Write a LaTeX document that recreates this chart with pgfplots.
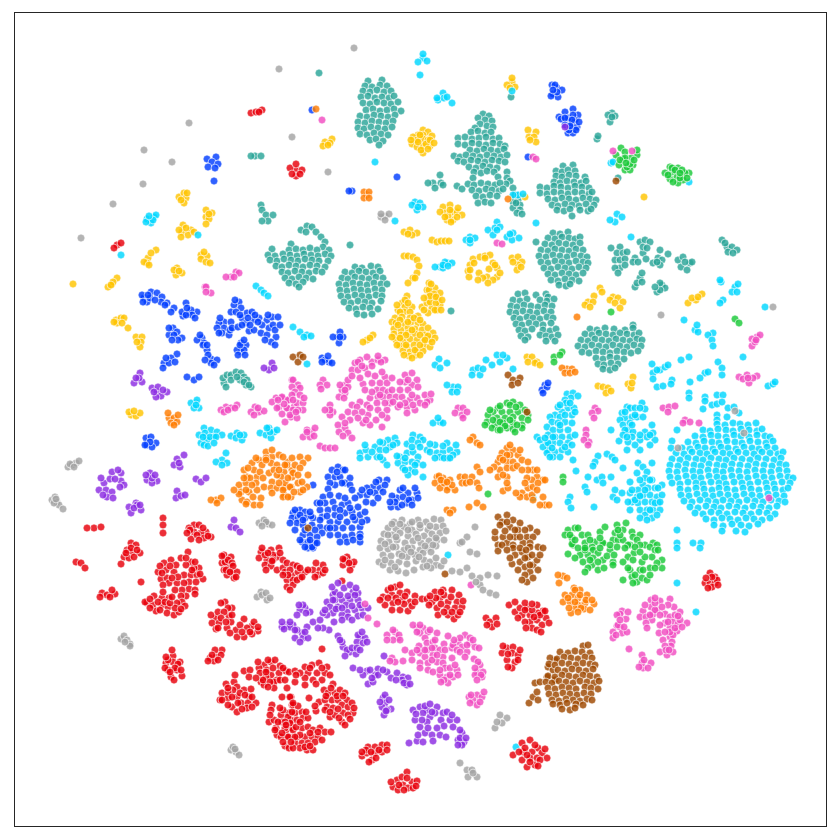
\documentclass[border=0pt]{standalone}
\usepackage{pgfplots}
\pgfplotsset{compat=1.18}
\definecolor{cteal}{HTML}{2AA598}
\definecolor{cred}{HTML}{E8000B}
\definecolor{cblue}{HTML}{023EFF}
\definecolor{corange}{HTML}{FF7C00}
\definecolor{cgreen}{HTML}{1AC938}
\definecolor{cpurple}{HTML}{8B2BE2}
\definecolor{cbrown}{HTML}{9F4800}
\definecolor{cpink}{HTML}{F14CC1}
\definecolor{cgray}{HTML}{A3A3A3}
\definecolor{cyellow}{HTML}{FFC400}
\definecolor{ccyan}{HTML}{00D7FF}
\pgfplotsset{dot/.style={only marks, mark=*, mark size=4pt,
  mark options={fill=#1, draw=white, line width=0.9pt, fill opacity=0.82, draw opacity=0.6}}}
\begin{document}
\begin{tikzpicture}
\path[use as bounding box] (0,0) rectangle (840pt,840pt);
\begin{axis}[
    at={(14pt,14pt)}, anchor=south west,
    scale only axis, width=812pt, height=814pt,
    xmin=14, xmax=826, ymin=12, ymax=826, y dir=reverse,
    ticks=none, axis line style={line width=0.8pt, black!85}
]
% teal
\addplot[dot=cteal] coordinates {
(319,73)(457,186)(462,189)(451,311)(536,242)
(368,81)(382,80)(365,86)(372,87)(380,85)(387,86)(363,91)(370,92)(377,90)(384,92)(391,91)
(361,97)(368,96)(375,98)(382,97)(389,98)(394,96)(363,103)(370,104)(377,102)(384,103)(391,104)(398,102)
(366,110)(373,109)(380,111)(387,110)(394,109)(401,111)(360,116)(367,117)(374,115)(381,116)(388,117)(395,115)
(358,122)(365,123)(372,121)(379,122)(386,123)(393,121)(358,128)(364,129)(371,127)(378,128)(385,129)(392,127)
(360,134)(367,135)(374,133)(381,134)(388,135)(370,140)(376,139)(383,141)(379,145)
(483,114)(489,116)(478,118)(485,120)(492,121)(480,124)(487,126)(493,127)(475,128)
(471,132)(478,131)(485,133)(491,132)(458,138)(465,137)(472,139)(479,138)(486,137)(493,139)(499,138)
(458,144)(465,145)(472,143)(479,144)(486,145)(493,143)(500,144)(505,146)(470,150)(477,151)(484,149)(491,150)(498,151)(504,149)
(454,156)(460,157)(466,155)(473,156)(480,157)(487,155)(494,156)(501,157)(507,155)
(458,161)(464,162)(471,160)(478,161)(485,162)(492,160)(499,161)(505,162)(469,167)(476,168)(483,166)(490,167)(497,168)
(474,172)(481,173)(487,171)(494,172)(507,172)(473,178)(498,177)(507,178)(510,181)(468,184)(474,185)(481,183)(488,184)(495,185)(506,184)(500,183)
(472,190)(479,191)(486,189)(492,190)(499,191)(503,189)(476,196)(483,197)(490,195)(497,196)(478,203)(485,202)(491,203)
(513,188)(515,195)(518,200)(513,202)(520,205)(513,208)(520,210)(517,213)(522,214)(516,203)
(563,166)(573,165)(556,171)(562,172)(568,170)(575,171)(556,176)(562,177)(569,175)(576,176)(585,177)
(554,182)(560,183)(567,181)(574,182)(581,183)(586,181)(540,187)(547,188)(554,186)(561,187)(568,188)(575,186)(582,187)(589,188)
(540,193)(547,194)(554,192)(561,193)(568,194)(575,192)(582,193)(589,194)(592,192)(548,199)(555,200)(562,198)(569,199)(576,200)(583,198)(590,199)(596,200)
(552,205)(558,206)(565,204)(572,205)(579,206)(586,204)(594,205)(557,210)(564,211)(570,209)(580,210)(588,211)(591,209)(572,216)
(301,230)(307,226)(312,227)(316,232)(306,232)(321,237)(325,242)(323,247)(329,250)(325,254)(331,256)(328,261)
(272,249)(291,244)(289,250)(296,249)(303,250)(310,248)(317,250)(268,255)(275,256)(283,254)(290,255)(297,256)(304,254)(311,255)(318,256)
(270,260)(277,261)(284,259)(291,260)(298,261)(305,259)(312,260)(319,261)(276,266)(282,267)(289,265)(296,266)(303,267)(310,265)(317,266)(325,267)
(282,272)(288,273)(295,271)(302,272)(309,273)(316,271)(322,272)(285,278)(292,279)(299,277)(306,278)(313,279)(289,283)(296,284)(303,282)(299,287)
(355,267)(362,268)(371,266)(378,267)(345,272)(352,273)(359,271)(366,272)(373,273)(380,271)
(342,278)(348,279)(355,277)(362,278)(369,279)(376,277)(383,278)(339,284)(346,285)(353,283)(360,284)(367,285)(374,283)(381,284)(387,284)
(340,290)(347,291)(354,289)(361,290)(368,291)(375,289)(382,290)(341,296)(348,297)(355,295)(362,296)(369,297)(376,295)(382,296)
(344,302)(351,303)(358,301)(365,302)(372,303)(381,301)(349,308)(356,309)(363,307)(370,308)(378,309)(357,314)(364,315)(372,314)
(553,233)(560,234)(568,232)(548,238)(555,239)(562,237)(569,238)(575,239)(580,237)(545,244)(552,245)(559,243)(566,244)(573,245)(580,243)
(541,250)(548,251)(555,249)(562,250)(569,251)(576,249)(583,250)(539,256)(546,257)(553,255)(560,256)(567,257)(574,255)(581,256)(587,257)
(541,262)(548,263)(555,261)(562,262)(569,263)(576,261)(583,262)(588,263)(544,268)(551,269)(558,267)(565,268)(572,269)(579,267)(586,268)
(548,274)(555,275)(562,273)(569,274)(576,275)(583,273)(551,280)(558,281)(565,279)(572,280)(579,281)(559,285)(566,286)(570,284)
(518,294)(525,293)(536,295)(546,294)(548,297)(513,300)(520,301)(527,299)(540,300)(547,301)(554,299)
(511,306)(517,307)(524,305)(531,306)(538,307)(545,305)(552,306)(510,312)(516,313)(523,311)(530,312)(537,313)(544,311)(551,312)
(514,318)(520,319)(527,317)(533,318)(540,319)(547,317)(553,318)(516,324)(522,325)(529,323)(536,324)(543,325)(551,323)
(519,330)(525,331)(532,329)(543,330)(550,331)(556,329)(521,336)(528,337)(540,335)(546,336)(552,337)(558,335)(525,340)(546,341)(555,341)
(633,325)(590,329)(597,330)(605,328)(614,329)(625,330)(633,328)(585,334)(592,335)(599,333)(606,334)(613,335)(620,333)(627,334)(634,335)(639,333)
(581,340)(588,341)(595,339)(602,340)(609,341)(616,339)(623,340)(630,341)(637,339)(642,340)(578,346)(585,347)(592,345)(599,346)(606,347)(613,345)(620,346)(627,347)(634,345)(641,346)
(582,352)(589,353)(596,351)(603,352)(610,353)(617,351)(624,352)(631,353)(638,351)(596,358)(603,359)(610,357)(617,358)(624,359)(598,364)(604,365)(611,363)(618,364)(603,369)(610,370)(615,368)
(611,248)(620,247)(617,253)(623,253)(627,252)(615,260)(620,260)(625,259)(620,268)(615,268)(618,273)(625,265)
(635,258)(633,262)(638,262)(643,253)(640,242)(645,240)(650,242)(643,247)(647,248)(646,259)
(660,250)(668,254)(658,258)(662,260)(653,263)(660,265)(657,262)
(678,260)(683,257)(690,263)(681,267)(687,270)(692,262)(685,262)
(722,240)(727,247)(732,247)(737,250)(728,252)(733,253)(725,243)
(640,278)(635,287)(642,273)(637,283)(642,282)(662,285)(657,292)(665,288)(660,290)(660,283)(655,287)
(612,113)(608,115)(615,116)(610,122)(612,117)(597,139)(598,136)(618,178)
(433,183)(440,175)(441,183)(435,188)(428,183)(443,185)
(261,205)(262,210)(266,215)(273,215)(268,221)(262,221)(255,156)(251,156)(261,156)(511,97)(350,245)
(224,383)(223,378)(227,375)(231,375)(236,372)(241,373)(244,377)(247,380)(251,387)(246,385)(240,380)(244,382)(226,387)(231,380)(237,377)(249,385)
};
% yellow
\addplot[dot=cyellow] coordinates {
(73,284)(179,197)(184,193)(186,198)(184,203)(181,200)(187,193)
(206,210)(212,213)(206,217)(209,219)(206,224)(209,214)
(183,225)(182,232)(191,230)(188,235)(181,237)(186,228)(194,232)(179,230)
(156,250)(148,258)(147,263)(151,253)(144,262)(149,265)
(201,255)(207,256)(201,259)(206,262)(210,263)(204,252)
(177,268)(176,275)(182,273)(174,270)(179,271)
(117,278)(112,284)(108,287)(113,282)(111,285)
(116,320)(121,318)(124,318)(117,323)(114,322)(128,328)(122,323)
(136,337)(142,337)(141,342)(140,347)(137,342)
(131,415)(136,416)(140,413)(129,412)(134,411)
(332,139)(325,142)(323,146)(330,143)(328,145)
(423,130)(428,132)(418,135)(413,137)(423,135)(432,136)(412,144)(417,147)(423,139)(430,146)(423,153)(417,140)(423,146)(428,140)
(420,135)(426,144)(418,142)(411,140)(421,150)(430,140)(434,143)(428,149)
(512,82)(507,85)(515,87)(510,88)(512,78)(528,130)(536,132)(529,137)(534,137)(536,142)(530,140)
(443,207)(450,205)(445,213)(452,212)(457,212)(462,215)(447,220)(453,220)(457,217)(440,212)(448,216)(450,210)(458,208)(445,217)(451,222)
(404,232)(410,230)(417,233)(412,235)(408,234)(432,240)(437,242)(441,241)(445,241)(449,241)
(404,256)(408,256)(413,257)(417,260)(419,266)(417,273)(413,278)(408,283)(415,278)
(429,283)(427,290)(435,288)(440,293)(428,297)(433,297)(438,300)(422,307)(427,303)(432,308)(437,310)(440,305)(428,313)(430,302)
(429,290)(434,294)(430,296)(436,303)(424,298)(436,297)(435,310)(424,310)(442,300)(431,284)(441,310)
(407,296)(402,303)(398,310)(405,307)(412,307)(395,318)(404,312)(405,300)(408,303)(400,312)(397,305)(410,312)(392,322)
(402,317)(410,318)(418,316)(396,323)(404,324)(411,322)(418,323)(423,324)(394,329)(401,330)(408,328)(415,329)(422,330)(428,328)
(394,334)(401,335)(408,333)(415,334)(425,335)(433,333)(396,340)(403,341)(410,339)(417,340)(424,341)(430,339)
(400,346)(407,347)(414,345)(424,346)(430,347)(403,351)(410,352)(417,350)(423,351)(409,356)(416,355)
(400,320)(408,322)(414,318)(420,320)(398,325)(406,335)(412,330)(420,335)(428,336)(400,338)(415,350)(420,345)(406,345)(392,337)(397,345)(404,355)(412,358)(420,355)(425,340)(435,338)(432,342)
(367,340)(373,335)(363,342)(370,338)
(473,259)(480,257)(485,256)(490,255)(493,263)(497,268)(470,265)(468,271)(469,277)(479,273)(489,269)(487,277)(497,277)(493,280)(483,278)(478,280)(488,283)(500,273)(485,258)(474,263)(470,270)(495,265)
(512,258)(518,257)(522,262)(518,265)(517,270)(513,262)(521,267)
(527,357)(532,357)(537,362)(528,362)(535,363)(540,365)
(600,288)(602,292)(594,296)(588,302)(593,302)(585,305)(590,307)
(613,297)(618,298)(610,300)(615,303)(623,302)(620,308)
(598,386)(603,387)(608,388)(606,393)(611,391)(633,377)(628,384)(631,388)(632,383)
(688,303)(696,300)(702,294)(692,298)(698,297)(644,197)(525,197)
};
% cyan
\addplot[dot=ccyan] coordinates {
(423,58)(423,54)(418,62)(427,61)(420,75)(443,93)(438,100)(444,98)(452,103)(447,97)(437,98)(512,91)
(375,162)(395,221)(536,223)(415,202)(420,203)(412,205)(417,210)(423,207)(418,207)(518,195)(523,194)(513,195)
(497,222)(488,230)(495,228)(500,227)(493,235)(497,230)(513,233)(507,237)(512,240)(519,238)(510,234)
(470,237)(466,240)(475,238)(470,243)(470,240)(448,263)(440,267)(435,267)(445,262)(452,263)(443,268)(443,265)(448,266)
(147,219)(154,217)(151,223)(146,222)(156,215)(153,220)(149,216)(198,235)(121,255)
(256,286)(261,290)(264,293)(268,296)(293,327)(300,332)(307,335)(304,337)(311,336)(307,364)
(439,359)(447,363)(435,365)(440,368)(453,387)(447,385)(458,387)(452,392)(457,392)(440,422)(433,423)(443,423)(438,418)
(473,370)(478,368)(480,375)(472,375)(486,360)(492,365)(497,355)(507,358)(500,362)(503,355)(483,369)(513,369)(533,498)
(360,453)(366,450)(368,457)(375,447)(380,450)(377,457)(383,460)(387,465)(388,440)(395,438)(383,443)(390,447)(397,443)(380,442)
(407,444)(413,435)(420,437)(412,440)(423,440)(418,443)(400,457)(407,453)(413,452)(418,457)(398,463)(405,462)(412,462)(417,463)(403,468)(410,470)(415,472)(423,465)(423,477)(408,475)(427,450)
(435,445)(447,443)(430,452)(437,453)(443,452)(450,450)(457,452)(440,457)(448,458)(453,455)
(360,458)(372,452)(380,457)(386,450)(393,445)(365,445)(405,458)(397,456)(405,470)(415,465)(420,447)(412,447)(435,458)(444,458)(450,458)(456,445)(443,446)(430,444)
(567,394)(573,393)(571,398)(578,396)(565,400)(568,408)(574,408)(562,412)(555,415)(550,417)(560,417)(572,415)(552,422)(558,423)(565,422)(572,423)
(547,427)(553,430)(560,430)(568,430)(548,435)(555,437)(562,437)(570,437)(547,443)(553,443)(560,443)(568,443)(548,450)(555,452)(562,450)(568,452)(553,457)(560,457)
(537,437)(540,440)(543,447)(547,453)(550,457)(573,460)(576,471)
(560,425)(553,437)(565,415)(566,403)(558,407)(570,403)(548,443)(552,448)(565,447)(545,438)(572,445)(575,435)(575,412)(560,405)
(627,407)(630,408)(635,408)(642,403)(645,409)(640,408)(622,413)(625,418)(632,417)(637,417)(620,420)(623,425)(630,423)(643,417)(628,430)(633,432)(625,430)(632,437)(619,441)(627,450)(628,442)(640,440)(645,432)(652,425)(653,433)(655,440)(647,437)(640,450)(611,430)
(625,412)(632,425)(640,435)(623,435)(635,415)(650,435)(650,445)(627,437)(635,445)
(638,463)(652,463)(643,467)(647,472)(637,473)(645,478)(652,480)(662,485)(643,485)(638,490)(648,488)(655,488)(630,493)(637,497)(643,495)(650,495)(657,497)(662,495)
(632,502)(638,503)(645,502)(652,502)(658,503)(640,510)(647,510)(653,510)(660,510)(630,510)(645,515)(652,518)(657,515)(630,482)
(640,480)(650,480)(658,488)(635,500)(650,510)(640,496)(645,490)(655,503)(632,490)(640,518)(647,520)(660,502)(628,502)
(598,456)(595,462)(593,466)(607,454)(612,457)(615,460)(623,468)(611,477)(588,477)(597,480)(602,477)(603,483)(585,487)(587,492)(615,490)(613,497)(617,500)(622,493)(570,497)(568,502)(571,508)(594,507)
(652,364)(660,370)(665,367)(653,373)(657,370)(668,365)(653,379)(672,380)(657,387)(663,386)(671,384)(681,360)(689,357)(690,382)(689,393)(689,398)
(695,330)(698,332)(697,325)(684,320)(713,333)(708,335)(712,340)(713,346)(705,373)(700,378)(708,372)(718,362)(722,368)(722,375)(743,357)(768,386)(773,384)(775,382)
(765,307)(723,300)(720,303)(735,287)(732,292)(737,292)(738,284)(721,282)(720,280)(631,237)(611,163)(613,162)(617,214)(615,222)(610,220)(622,217)(689,182)
(705,397)(705,401)(717,395)(723,395)(712,405)(717,404)(703,409)(722,402)(728,408)(734,407)(739,413)(717,415)(717,420)(727,417)(677,430)(672,441)(671,448)
(677,530)(677,543)(677,548)(693,543)(701,543)(700,548)(677,583)(696,612)(448,555)(516,747)
(196,403)(191,403)(199,408)(194,408)(197,400)(196,405)(204,428)(211,430)(217,432)(222,435)(199,435)(206,437)(214,437)(201,443)(207,440)(204,445)
(205,433)(210,437)(216,437)(208,446)(214,443)(203,437)
(231,436)(237,433)(236,438)(242,440)(244,435)(240,435)(260,433)(269,428)(266,435)(274,432)(271,438)(277,430)(270,432)(267,428)(226,453)(222,460)(216,462)(227,463)(222,465)
(717,424)(725,425)(733,423)(740,424)(748,425)(756,423)(703,430)(710,431)(718,429)(726,430)(733,431)(741,429)(749,430)(757,431)(762,429)
(695,436)(703,437)(711,435)(718,436)(726,437)(734,435)(741,436)(749,437)(757,435)(765,436)(770,437)
(688,442)(696,443)(704,441)(712,442)(719,443)(727,441)(735,442)(742,443)(750,441)(758,442)(766,443)(773,441)
(682,448)(690,449)(698,447)(705,448)(713,449)(721,447)(728,448)(736,449)(744,447)(752,448)(759,449)(767,447)(775,448)
(676,453)(684,454)(692,452)(700,453)(707,454)(715,452)(723,453)(730,454)(738,452)(746,453)(754,454)(762,452)(770,453)(778,454)(783,452)
(672,459)(680,460)(688,458)(696,459)(703,460)(711,458)(719,459)(726,460)(734,458)(742,459)(750,460)(758,458)(766,459)(774,460)(781,458)
(670,465)(678,466)(686,464)(694,465)(701,466)(709,464)(717,465)(724,466)(732,464)(740,465)(748,466)(756,464)(764,465)(772,466)(780,464)(786,465)
(669,471)(677,472)(685,470)(693,471)(700,472)(708,470)(716,471)(723,472)(731,470)(739,471)(747,472)(755,470)(763,471)(771,472)(779,470)(787,471)
(670,477)(678,478)(686,476)(694,477)(701,478)(709,476)(717,477)(724,478)(732,476)(740,477)(748,478)(756,476)(764,477)(772,478)(780,476)(788,477)(793,478)
(672,483)(680,484)(688,482)(696,483)(703,484)(711,482)(719,483)(726,484)(734,482)(742,483)(750,484)(758,482)(766,483)(774,484)(782,482)(790,483)
(680,489)(688,490)(696,488)(704,489)(712,490)(719,488)(727,489)(735,490)(743,488)(751,489)(759,490)(767,488)(775,489)(783,490)(788,488)
(681,495)(689,496)(697,494)(705,495)(713,496)(720,494)(728,495)(736,496)(744,494)(752,495)(760,496)(768,494)(776,495)(784,496)
(684,501)(692,502)(700,500)(708,501)(716,502)(723,500)(731,501)(739,502)(747,500)(755,501)(763,502)(771,500)(779,501)(785,502)
(690,507)(698,508)(706,506)(714,507)(721,508)(729,506)(737,507)(745,508)(753,506)(761,507)(769,508)(777,506)
(695,513)(703,514)(711,512)(719,513)(727,514)(735,512)(743,513)(751,514)(759,512)(767,513)(775,514)
(706,519)(714,520)(722,518)(730,519)(738,520)(746,518)(754,519)(762,520)(770,518)(714,525)(723,526)(732,524)(741,525)(749,526)(758,524)(722,531)(736,531)(745,532)
};
% blue
\addplot[dot=cblue] coordinates {
(207,159)(216,157)(212,162)(218,164)(208,167)(215,168)(214,181)(352,191)(349,191)(397,177)(312,110)
(557,88)(553,94)(562,90)(552,85)(558,97)(551,96)(555,85)(557,92)(553,90)
(573,109)(565,112)(559,117)(578,115)(575,120)(568,118)(572,125)(577,127)(568,133)(573,133)(576,130)(561,119)(573,115)(569,130)(528,157)(565,118)(572,120)(565,125)(570,126)(579,122)
(144,298)(151,292)(157,293)(162,297)(167,303)(174,308)(147,302)(161,302)(142,295)(186,303)(150,298)(155,300)(165,305)(171,312)(148,295)(143,302)
(189,313)(183,316)(197,312)(191,310)(182,312)(192,315)(186,315)(195,318)(187,308)
(173,328)(169,335)(177,332)(182,338)(169,328)(174,335)(178,340)(172,340)(177,354)(171,358)(164,363)(169,363)(166,358)(163,368)(175,362)
(202,338)(197,340)(204,343)(207,350)(211,359)(217,360)(208,355)(211,363)(203,345)(200,335)(207,345)(214,365)(205,360)
(241,343)(246,345)(241,352)(237,350)(244,350)(240,345)(238,355)(245,355)(244,340)
(224,322)(219,323)(231,322)(224,328)(222,333)(229,335)(217,328)(220,318)(230,330)(219,333)(232,328)
(239,302)(234,305)(231,312)(241,308)(236,312)(238,327)(242,318)(247,313)(252,312)(246,323)(254,320)(249,331)(259,318)(254,330)(261,333)(267,320)(272,317)(278,317)(269,328)(267,335)(276,337)(271,342)
(240,315)(248,318)(235,300)(255,315)(242,325)(250,325)(262,325)(258,322)(273,325)(275,330)(265,340)(275,345)(268,315)(280,325)
(194,380)(187,377)(199,377)(146,438)(151,437)(156,443)(147,445)(152,447)(150,442)(145,445)
(338,337)(333,337)(343,337)(340,332)(339,343)(322,358)(329,362)(325,360)(332,363)(322,362)(328,356)(340,337)
(545,385)(542,390)(547,387)(543,393)(548,383)
(338,467)(332,470)(343,470)(328,477)(335,477)(340,477)(350,478)(345,483)(350,485)(345,470)(337,472)(342,483)(335,485)(352,490)(330,483)
(379,480)(387,480)(373,487)(380,488)(367,488)(360,495)(367,495)(375,493)(373,503)(385,485)(376,482)(370,492)(362,490)(383,492)(378,498)(355,498)(366,502)
(400,490)(408,493)(417,493)(397,498)(403,497)(412,500)(418,498)(392,496)(391,507)(398,507)(407,503)(403,488)(409,500)(402,505)(395,502)(415,488)(390,502)(412,505)
(339,496)(328,489)(323,497)(333,502)(317,503)(325,503)(342,505)(348,503)(358,507)(320,510)(328,510)(335,515)(345,513)(352,512)(360,515)
(313,518)(322,517)(330,522)(338,522)(347,522)(355,520)(367,520)(320,527)(327,528)(335,528)(343,528)(352,528)(360,527)(330,535)(345,537)(360,534)(347,542)(360,542)
(320,503)(335,508)(340,510)(350,508)(330,495)(345,498)(327,516)(340,517)(353,517)(362,522)(320,520)(330,528)(338,535)(352,535)(340,542)(322,533)(312,525)(365,512)(360,537)(353,540)
(293,513)(300,510)(305,512)(292,518)(298,518)(305,518)(311,516)(297,523)(303,525)(303,535)(310,535)(317,537)(302,542)(308,542)(315,543)(308,548)(313,548)(313,485)(312,547)(317,543)
(295,510)(300,515)(310,512)(303,520)(290,523)(295,530)(305,530)(315,530)(300,540)(310,540)(305,547)
};
% red
\addplot[dot=cred] coordinates {
(251,113)(256,112)(262,110)(259,112)(117,245)(121,243)(114,248)(296,170)(290,168)(296,164)(302,170)(296,176)(292,174)(300,174)
(94,528)(87,528)(101,527)(163,518)(163,525)(163,533)(194,525)(189,528)(199,525)(194,532)(206,532)(211,537)(201,533)(191,539)(204,538)(190,530)(197,535)(203,528)(208,536)(187,533)(199,540)
(131,543)(136,545)(127,550)(132,552)(140,553)(124,557)(129,558)(121,564)(131,548)(137,550)(126,553)(134,557)(76,562)(81,563)(85,568)(102,593)(107,595)(115,594)(110,597)(100,597)(112,590)
(188,552)(181,558)(171,560)(164,563)(158,572)(166,570)(174,572)(191,562)(199,568)(194,568)(184,575)(191,575)(197,575)(203,579)(161,579)(167,578)(169,583)(177,583)(189,582)(196,582)(189,589)(195,590)(195,594)(186,596)(141,582)
(176,565)(186,565)(178,577)(170,566)(160,566)(184,583)(182,590)(192,570)(200,574)(163,585)(175,590)(181,596)(186,558)(195,562)(172,578)(162,573)
(154,596)(162,598)(169,598)(147,603)(153,605)(162,605)(168,607)(182,602)(177,603)(156,611)(167,613)(174,615)(179,612)(145,602)
(158,602)(150,599)(165,602)(175,608)(160,610)(170,603)(185,606)(150,608)(172,597)(181,609)(163,592)
(224,555)(231,557)(222,563)(229,565)(224,570)(232,572)(237,572)(227,575)(234,578)(225,562)(228,560)(232,563)(226,570)(233,566)(230,572)(222,556)(236,577)
(261,552)(271,550)(279,548)(259,558)(267,560)(277,557)(265,565)(271,566)(277,570)(265,555)(273,555)(262,548)(268,553)(280,553)(283,560)(273,560)(283,568)(266,570)(272,561)
(287,563)(293,565)(285,572)(292,575)(298,572)(305,572)(287,580)(293,580)(300,578)(287,587)(293,585)(313,570)(320,570)(323,565)(318,575)(323,573)
(290,570)(297,566)(300,568)(288,575)(297,580)(283,575)(302,577)(290,590)(316,563)(308,570)(315,577)(325,570)
(348,560)(343,565)(352,565)(347,557)(354,562)(345,560)(350,570)(349,563)(343,559)(342,581)(322,649)
(225,602)(221,603)(232,608)(229,616)(216,618)(211,615)(212,623)(219,623)(216,629)(231,622)(227,628)(236,630)(244,619)(252,626)(247,628)(258,631)(252,634)(244,637)(237,637)(254,622)
(228,608)(218,612)(224,612)(232,615)(221,618)(226,622)(218,628)(240,625)(250,632)(258,627)(242,632)(230,633)
(222,650)(210,658)(216,657)(214,661)(221,655)(215,650)(218,660)(212,655)(208,661)(173,656)(166,663)(173,662)(177,670)(171,677)(182,676)(168,670)(180,662)(168,660)(178,664)(165,668)(175,668)(181,670)(170,672)(174,680)(172,650)(166,657)
(226,684)(234,682)(222,693)(228,698)(237,687)(244,690)(251,689)(249,697)(237,697)(220,700)(232,707)(241,703)(248,703)(256,703)(237,712)(247,708)(244,671)(250,670)(249,677)
(233,690)(240,693)(228,692)(228,688)(232,697)(245,695)(222,700)(238,703)(228,705)(242,709)(252,697)(252,707)(235,675)
(264,665)(271,662)(275,660)(259,668)(267,670)(280,666)(260,673)(271,675)(279,673)(266,677)(277,680)(261,682)(274,682)(264,685)(274,688)(286,671)(289,672)(287,688)
(258,662)(266,672)(268,660)(273,668)(283,668)(263,680)(270,682)(280,680)(285,680)(268,687)(256,678)
(282,697)(291,697)(272,705)(271,710)(269,722)(274,720)(281,715)(289,713)(276,728)(282,722)(291,720)(277,735)(286,730)(292,728)(281,737)(289,737)(285,746)(289,748)(292,705)
(283,710)(293,705)(288,717)(295,713)(302,712)(290,723)(297,720)(303,718)(308,718)(285,728)(293,730)(302,728)(308,727)(313,730)(320,728)(325,732)(331,732)
(288,737)(297,737)(305,737)(312,737)(318,737)(295,743)(302,743)(308,743)(315,742)(322,740)(300,748)(307,750)(313,750)(293,748)
(270,715)(280,708)(285,722)(292,712)(298,706)(275,730)(282,733)(296,727)(300,735)(310,733)(318,732)(295,737)(283,742)(305,747)(291,742)(310,746)(286,725)(278,722)(300,722)(306,712)
(324,690)(319,702)(316,711)(330,717)(309,698)(295,671)(290,697)(293,703)(315,706)
(333,684)(328,693)(335,693)(340,690)(345,693)(325,700)(332,700)(338,700)(347,700)(327,707)(333,708)(342,705)(348,707)(353,713)(335,715)(343,713)(348,715)(342,722)(325,710)
(326,696)(337,696)(343,696)(331,688)(352,703)(354,708)(330,712)(338,709)(350,719)(345,725)(339,718)
(305,667)(312,665)(319,663)(327,667)(308,673)(317,673)(325,673)(305,678)(313,680)(322,680)(295,682)(310,668)(322,668)(300,673)(330,675)(316,684)(305,685)(296,675)
(395,587)(388,590)(383,597)(392,595)(400,593)(407,592)(415,596)(385,605)(393,603)(402,600)(410,602)(392,610)(400,610)(408,611)
(388,598)(396,598)(404,604)(412,606)(415,602)(391,588)(398,602)(405,596)(380,600)(400,585)
(422,599)(427,599)(435,592)(443,590)(452,590)(459,595)(432,602)(440,598)(448,602)(457,602)(437,608)(447,608)(455,608)(462,607)(448,615)(454,619)(458,615)
(429,605)(436,598)(444,595)(451,597)(463,601)(441,604)(430,596)(452,612)(460,612)(438,615)(444,612)(441,592)
(486,618)(490,622)(496,618)(492,627)(487,625)(497,624)(509,605)(515,612)(520,608)(527,608)(537,605)(543,611)(522,615)(530,615)(538,613)(546,618)(530,622)(537,620)(525,622)(532,628)(542,625)(537,630)
(515,602)(525,603)(532,610)(540,615)(532,604)(525,610)(518,618)(545,611)(526,628)(549,623)(534,617)(541,632)
(507,648)(513,647)(502,653)(512,653)(518,655)(507,660)(515,662)(512,668)(508,654)(518,660)(508,667)(503,646)(520,650)
(362,756)(368,747)(375,747)(382,745)(387,745)(367,753)(375,753)(382,752)(372,760)(366,750)(371,752)(379,750)(387,750)(362,752)(376,758)(369,762)
(397,780)(402,777)(407,772)(393,787)(403,785)(412,782)(417,781)(408,788)(398,790)(399,785)(407,778)(413,788)(404,790)(391,782)(416,786)
(513,755)(522,743)(530,740)(538,748)(523,752)(532,752)(542,753)(547,758)(522,760)(530,758)(537,758)(527,767)(535,765)(525,748)(535,745)(527,755)(540,760)(519,752)(545,749)(530,762)(538,766)
(710,573)(715,577)(705,583)(710,583)(715,583)(717,580)(712,587)(712,577)(706,578)(708,588)(718,585)
};
% orange
\addplot[dot=corange] coordinates {
(316,109)(367,195)(364,192)(369,192)(364,198)(369,198)(508,199)(577,317)
(567,369)(562,368)(572,369)(565,373)(570,373)(575,372)(169,418)(174,418)(171,423)(177,422)(174,425)(168,413)(178,415)(216,500)(211,500)(221,498)(217,503)
(266,452)(259,460)(252,463)(272,457)(279,455)(262,465)(271,463)(244,470)(254,470)(277,465)(287,462)(292,458)(247,477)(257,477)(269,473)(274,470)(284,472)(292,470)
(239,485)(246,483)(256,483)(264,487)(272,482)(281,477)(292,477)(241,492)(249,492)(257,490)(271,488)(277,488)(284,488)(291,487)(242,500)(254,505)(247,502)(261,498)(272,493)(284,495)(291,497)
(283,457)(300,457)(308,458)(287,465)(295,465)(303,463)(293,473)(308,475)(285,483)(298,483)(307,487)(290,487)(283,490)(300,492)(283,497)(246,504)
(256,458)(266,458)(260,472)(250,478)(263,478)(277,475)(285,465)(300,468)(246,490)(253,497)(266,460)(279,470)(272,450)(248,468)(244,478)(298,475)(288,478)(302,482)(260,505)(252,485)(303,490)(294,492)(279,483)(288,497)(239,494)(234,490)
(473,437)(470,440)(477,443)(480,445)(477,467)(480,472)
(437,477)(443,478)(450,480)(435,483)(442,483)(448,487)(455,490)(447,490)(440,488)(460,477)(465,477)(472,477)(477,483)(462,483)(479,488)(444,483)(452,485)(439,476)(466,483)(470,482)(441,480)(447,482)
(447,510)(453,510)(450,513)(469,507)(477,503)(483,507)(503,491)(508,488)(543,497)(545,505)(540,505)(549,505)
(507,448)(513,450)(502,453)(510,455)(518,455)(498,462)(507,462)(513,462)(522,460)(500,470)(507,468)(513,468)(528,462)(498,477)(507,477)(533,470)(528,470)(537,477)(543,480)(532,480)(528,488)(522,493)(533,487)(527,497)(520,497)(532,495)(538,483)
(507,455)(500,458)(517,466)(522,470)(494,467)(503,460)(520,450)(510,445)(537,470)(527,478)(525,483)(537,490)(516,493)(533,500)(545,480)(503,475)(490,470)(507,483)
(563,576)(558,575)(567,578)(559,583)(574,588)(580,590)(565,595)(572,595)(578,598)(587,595)(563,602)(570,602)(578,605)(585,603)(594,604)(575,608)(584,609)(590,610)(571,613)
(575,590)(568,598)(580,595)(586,600)(575,602)(592,600)(581,608)(569,608)(578,612)
};
% green
\addplot[dot=cgreen] coordinates {
(621,148)(625,152)(637,155)(623,159)(631,158)(619,165)(633,165)(625,170)(630,170)(637,150)(616,155)(627,167)(625,158)(620,160)(630,164)(634,160)(626,163)
(670,167)(678,168)(665,173)(672,172)(689,173)(685,173)(670,179)(677,177)(683,180)(678,183)(673,182)(682,170)(672,168)(680,178)(675,170)(687,178)(668,175)(680,173)
(611,312)(735,319)(739,323)(562,352)(554,357)(554,362)(560,355)(563,477)(563,482)(488,494)
(507,403)(513,402)(520,405)(498,408)(493,412)(502,412)(510,412)(518,412)(528,415)(488,415)(497,418)(505,418)(513,417)(522,418)(487,422)(495,425)(503,423)(513,423)(522,425)(528,420)(492,428)(498,430)(507,428)(513,429)(522,428)
(510,405)(500,406)(516,407)(493,420)(500,422)(510,420)(517,425)(525,410)(490,410)(505,426)(515,432)(500,430)(485,425)
(568,530)(575,528)(578,528)(565,535)(572,538)(582,535)(588,535)(600,532)(605,527)(573,545)(585,543)(595,542)(602,543)(617,525)(626,523)(615,533)(623,530)(613,540)(618,540)(623,540)(632,532)(633,537)(640,535)(637,540)(630,545)(645,545)(653,543)(650,547)(592,547)
(572,544)(568,554)(583,550)(593,550)(603,543)(610,550)(617,547)(580,555)(588,555)(598,553)(583,562)(593,558)(603,560)(613,562)(592,565)(598,570)(613,565)(588,568)
(570,535)(585,550)(575,540)(590,540)(600,538)(578,548)(590,560)(600,548)(610,545)(607,556)(598,562)(575,558)(585,572)(604,568)(614,555)(585,548)
(634,553)(628,557)(623,562)(633,560)(657,545)(652,557)(662,560)(642,562)(630,570)(640,570)(650,568)(662,568)(657,563)(632,577)(623,580)(637,582)(633,583)(642,578)
(628,545)(640,545)(635,547)(645,557)(655,550)(643,570)(635,575)(628,568)(647,580)(658,550)(655,568)(620,535)(625,548)(618,530)(640,552)(650,575)
};
% brown
\addplot[dot=cbrown] coordinates {
(293,357)(300,355)(298,362)(303,357)(508,375)(513,380)(520,378)(512,385)(518,383)(308,528)(527,412)(616,181)
(498,517)(507,515)(502,522)(513,520)(520,523)(530,528)(510,527)(518,530)(537,532)(495,538)(503,537)(515,537)(527,537)(533,537)(498,545)(507,543)(513,545)(523,543)(530,543)
(498,551)(513,548)(522,552)(530,547)(538,547)(543,548)(512,564)(528,557)(520,562)(525,567)(533,565)(530,572)(527,582)(533,578)(538,570)(525,575)(537,560)(445,574)
(500,525)(507,522)(505,531)(515,530)(525,530)(495,532)(502,545)(510,537)(520,537)(520,548)(532,555)(526,550)(515,555)(507,550)(510,558)(525,558)(540,555)(518,570)(530,565)(522,580)
(529,703)(533,697)(537,692)(535,683)(540,682)(547,677)(548,667)(555,660)(553,670)(555,680)(538,700)
(583,646)(588,645)(560,652)(568,653)(575,651)(582,652)(590,653)(550,658)(557,659)(564,657)(571,658)(578,659)(585,657)(592,658)
(549,664)(555,665)(562,663)(569,664)(576,665)(583,663)(590,664)(595,665)(558,670)(565,671)(572,669)(579,670)(586,671)(593,669)
(548,676)(555,677)(562,675)(569,676)(576,677)(583,675)(590,676)(597,677)(546,682)(552,683)(559,681)(566,682)(573,683)(580,681)(587,682)(594,683)(599,681)
(548,688)(555,689)(562,687)(569,688)(576,689)(585,687)(591,688)(598,689)(549,694)(556,695)(563,693)(570,694)(577,695)(584,693)(591,694)
(552,700)(559,701)(566,699)(573,700)(580,701)(587,699)(592,700)(553,704)(560,705)(567,703)(576,704)(583,705)(562,709)(570,710)(575,708)
};
% purple
\addplot[dot=cpurple] coordinates {
(140,373)(134,383)(142,382)(139,378)(136,378)(152,388)(157,392)(161,396)(167,392)(156,397)(158,387)(154,392)(163,390)(272,363)(269,370)(264,368)(274,368)
(184,455)(177,459)(174,465)(180,467)(179,463)(112,472)(121,473)(104,483)(121,481)(110,479)(124,485)(99,490)(106,490)(112,492)(107,497)(101,478)(115,479)(118,470)(120,487)(103,495)(113,498)
(150,473)(147,480)(157,481)(152,483)(152,478)(146,475)(155,475)(196,479)(201,482)(206,478)(177,491)(176,498)(181,496)(185,495)
(129,507)(136,503)(141,510)(131,513)(137,505)(134,508)(140,505)(234,520)(231,527)(236,528)(240,532)(565,127)
(333,595)(327,602)(335,600)(342,600)(353,592)(350,600)(358,593)(330,607)(338,607)(347,612)(355,610)(362,608)(368,608)(333,613)(342,615)(348,617)(358,616)(363,615)(327,615)(334,622)(342,620)(329,630)(323,628)(318,628)(313,622)(310,612)(305,608)(300,610)(303,605)(323,613)
(335,592)(348,596)(346,605)(336,609)(342,608)(352,606)(358,600)(360,605)(355,595)(333,600)(325,610)(340,595)(344,588)(350,585)(356,588)(332,587)(338,583)(320,620)(352,620)
(293,625)(287,625)(282,627)(290,627)(284,629)(307,627)(302,633)(295,638)(303,638)(308,638)(300,642)(299,605)(306,613)(297,615)(290,622)(282,622)(297,630)(305,632)(295,630)
(338,636)(343,647)(350,652)(356,654)(342,642)(347,650)(360,637)(365,638)(357,642)(363,643)(384,656)(353,668)(340,640)(352,648)(345,656)(358,635)(362,632)(367,642)(357,648)(360,650)
(367,671)(363,675)(378,669)(375,675)(368,684)(378,675)(373,682)(387,672)(397,673)(403,677)(408,678)(402,680)(407,685)(370,670)(372,678)(360,670)(383,670)(391,678)(396,680)(404,683)(410,684)
(383,698)(385,703)(382,707)(391,709)(384,715)(387,710)(385,695)(380,702)(389,700)(386,711)
(413,710)(420,707)(427,710)(437,707)(443,713)(415,720)(423,713)(430,717)(435,713)(450,720)(457,720)(453,727)(427,722)(420,727)(425,733)(432,735)(440,735)(417,741)(409,743)(423,742)(433,741)(462,733)(458,740)(464,742)(462,745)
(416,714)(425,706)(430,704)(422,720)(432,712)(441,720)(447,712)(444,726)(452,715)(428,728)(418,735)(437,728)(446,737)(460,738)(466,738)(458,745)(460,730)
};
% pink
\addplot[dot=cpink] coordinates {
(322,120)(497,243)(502,244)(533,157)(536,159)(613,151)(632,151)
(236,272)(231,277)(239,273)(226,277)(234,277)(205,287)(206,287)(211,293)(206,292)
(292,380)(276,398)(279,407)(272,402)(282,398)(289,400)(294,407)(287,408)(291,417)
(226,407)(221,410)(231,408)(237,405)(224,412)(228,410)(235,408)(255,407)(251,412)(259,412)(264,411)(254,415)(258,408)
(293,380)(298,385)(292,387)(300,388)(295,392)(323,380)(320,385)(327,385)(321,389)
(282,397)(288,400)(297,403)(303,403)(287,408)(293,410)(303,410)(290,415)(297,418)(292,395)(284,404)(298,410)(300,395)(278,400)(277,408)(282,414)(285,422)(296,412)(304,398)(293,400)
(312,432)(307,430)(303,437)(310,437)(315,428)(307,432)(314,436)(320,446)(325,448)(330,448)(335,448)
(330,405)(333,412)(330,415)(330,410)(325,410)(345,385)(348,387)(342,390)(345,393)(339,397)(344,398)(348,380)(340,385)(363,384)
(360,360)(355,363)(352,370)(358,370)(365,368)(372,362)(378,360)(385,360)(358,362)(362,366)(372,366)(381,362)(378,356)(367,357)(352,376)(360,378)(368,374)
(385,377)(380,383)(387,383)(377,390)(383,390)(388,392)(378,397)(383,397)(390,397)(370,398)(377,403)(360,402)(352,405)(348,412)(342,417)(357,407)(367,405)(387,410)(390,403)(368,415)(363,423)(370,425)(382,427)(387,418)(338,425)(345,428)(348,433)(352,438)
(345,390)(375,376)(382,372)(392,378)(378,410)(370,408)(362,412)(355,413)(350,420)(358,418)(366,420)(345,423)(376,420)(382,415)(392,390)(396,397)(372,383)(365,390)(385,403)(380,395)(339,432)(343,436)
(405,375)(412,373)(417,380)(405,382)(412,385)(418,387)(408,390)(402,397)(410,400)(417,398)(398,407)(407,407)(415,410)(407,413)(425,395)(430,400)(427,402)
(400,382)(408,380)(400,390)(393,402)(412,395)(420,403)(425,405)(413,405)(405,403)(431,394)(400,405)(372,392)
(458,408)(463,408)(455,413)(462,415)(467,412)(463,418)
(595,408)(598,411)(592,413)(594,418)(586,430)(586,435)(589,442)(584,440)(588,445)
(663,408)(669,407)(675,406)(668,412)(685,420)(690,422)(699,423)(683,423)
(757,337)(752,339)(760,335)(752,346)(755,342)(756,340)(739,377)(747,375)(743,379)(757,376)(749,383)(753,378)(748,378)(769,498)
(622,611)(620,614)(626,619)(617,615)(617,626)(620,627)(613,632)(622,633)(627,632)(613,638)(618,625)(616,635)(624,627)(620,620)(628,612)
(651,600)(660,601)(651,607)(643,611)(657,610)(670,599)(674,607)(640,617)(646,617)(652,620)(653,614)(646,623)(647,628)(665,614)(680,612)(670,617)(665,623)(673,622)(678,624)(687,623)(670,628)(677,631)(659,633)(670,637)(673,635)
(655,610)(650,615)(660,615)(668,605)(645,605)(655,603)(668,622)(675,615)(680,620)(670,632)(678,616)(665,632)(660,625)(675,628)(663,640)(655,598)(662,607)(682,627)(672,642)
(671,646)(665,646)(660,652)(667,655)(673,652)(666,650)(669,650)(629,649)(642,655)(651,663)(643,668)(642,663)(639,667)(644,660)(648,668)
(387,635)(395,632)(398,638)(393,640)(399,635)(417,628)(423,628)(428,632)(437,633)(420,633)(387,640)(393,630)(400,640)(417,632)(413,625)(420,625)(430,630)(425,638)
(405,650)(412,653)(419,646)(427,643)(433,642)(420,653)(427,650)(435,648)(440,650)(425,657)(433,655)(443,657)(452,658)(420,663)(428,663)(437,662)(443,663)
(435,640)(444,644)(417,650)(412,660)(425,650)(432,648)(445,650)(432,660)(437,655)(445,668)(428,670)(452,648)(420,668)
(458,642)(465,635)(453,645)(462,647)(470,643)(475,647)(479,648)(457,650)(467,652)(460,638)(470,638)(467,645)(460,652)(473,640)(465,657)(454,640)(448,636)
(433,672)(440,675)(450,668)(457,670)(447,677)(453,677)(448,683)(474,659)(480,665)(477,672)(483,672)(475,675)(482,677)(440,670)(450,675)(444,680)(455,665)(458,675)(441,682)(478,662)(475,668)(481,675)(477,680)
(469,697)(477,695)(482,697)(473,700)(477,705)(471,695)(480,702)(484,692)(470,703)(368,618)(377,624)(365,604)(471,585)(392,658)(403,661)(395,662)(390,661)
};
% gray
\addplot[dot=cgray] coordinates {
(354,48)(279,69)(189,123)(292,137)(144,150)(172,162)(143,184)(328,172)(113,204)(81,238)(661,315)(773,307)
(385,216)(381,217)(389,214)(385,220)(381,214)(68,467)(72,465)(76,463)(70,464)(74,467)(79,461)
(52,500)(55,497)(57,502)(59,505)(63,509)(54,503)(56,499)(259,523)(264,520)(268,524)(272,525)(266,522)(262,526)
(257,597)(261,592)(262,595)(266,593)(267,600)(270,598)(121,639)(124,636)(127,640)(130,644)(130,646)(125,642)
(231,750)(233,747)(236,752)(239,755)(235,749)(495,728)(500,715)(507,718)(502,723)(497,722)
(460,763)(467,770)(472,770)(468,777)(477,777)(473,773)
(394,522)(402,520)(410,524)(418,520)(426,522)(434,519)(441,520)(388,528)(396,529)(404,527)(412,530)(420,528)(428,530)(436,527)(443,526)
(384,534)(392,535)(400,533)(408,536)(416,534)(424,536)(432,534)(440,533)(446,531)(381,541)(389,542)(397,540)(405,543)(413,541)(421,543)(429,541)(437,540)
(380,548)(388,549)(396,547)(404,550)(412,548)(420,550)(428,548)(436,546)(383,555)(391,556)(399,554)(407,557)(415,555)(423,553)(431,552)(379,562)(383,565)(391,563)(399,562)(407,564)(416,561)(424,560)(430,562)(436,565)
(390,570)(398,571)(406,573)(414,570)(423,567)(431,568)(441,566)
(392,524)(400,524)(412,522)(420,525)(430,526)(388,535)(396,537)(408,530)(418,538)(436,538)(444,540)(385,544)(393,547)(408,548)(425,546)(433,545)(385,560)(395,567)(402,556)(411,552)(419,557)(427,566)(436,558)(444,561)
(452,571)(460,572)(467,568)(472,576)(480,578)(488,575)(497,576)(480,585)(483,590)(490,593)(496,595)(476,582)
(460,543)(470,552)(477,554)(467,537)(475,527)(462,542)(678,448)(744,433)(735,411)
};
\end{axis}
\end{tikzpicture}
\end{document}
